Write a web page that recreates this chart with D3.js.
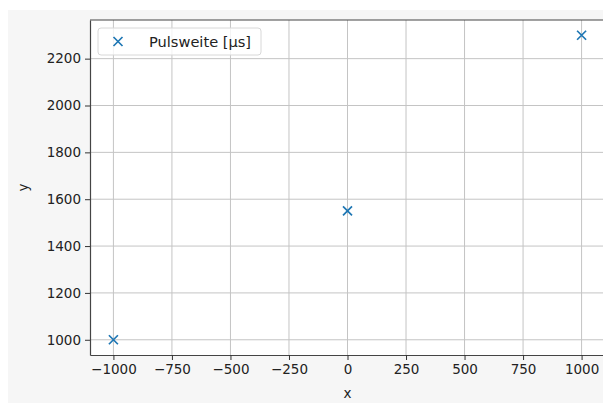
<!DOCTYPE html>
<html>
<head>
<meta charset="utf-8">
<script src="https://cdn.jsdelivr.net/npm/d3@7"></script>
<style>
  body { margin: 0; background: #fff; }
  svg { display: block; font-family: "DejaVu Sans", sans-serif; }
</style>
</head>
<body>
<div id="canvas"></div>
<script>
const xValues = [-1000, 0, 1000];
const yValues = [1000, 1550, 2300];
const seriesName = "Pulsweite [µs]";
const xTicks = [-1000, -750, -500, -250, 0, 250, 500, 750, 1000];
const yTicks = [1000, 1200, 1400, 1600, 1800, 2000, 2200];

const width = 603;
const height = 403;
const margin = { top: 20, left: 90, bottom: 48, right: -2 };
const iwidth = width - margin.left - margin.right;
const iheight = height - margin.top - margin.bottom;

const svg = d3.select("#canvas").append("svg")
  .attr("width", width)
  .attr("height", height);

// figure background
svg.append("rect")
  .attr("x", 8).attr("y", 10)
  .attr("width", width - 8).attr("height", height - 10)
  .attr("fill", "#f6f6f6");

const g = svg.append("g")
  .attr("transform", `translate(${margin.left},${margin.top})`);

g.append("rect")
  .attr("width", iwidth).attr("height", iheight)
  .attr("fill", "#fff");

const x = d3.scaleLinear().domain([-1100, 1100]).range([0, iwidth]);
const y = d3.scaleLinear().domain([935, 2365]).range([iheight, 0]);

// grid
g.append("g").selectAll("line").data(xTicks).join("line")
  .attr("x1", d => x(d)).attr("x2", d => x(d))
  .attr("y1", 0).attr("y2", iheight)
  .attr("stroke", "#c4c4c4").attr("stroke-width", 1);
g.append("g").selectAll("line").data(yTicks).join("line")
  .attr("x1", 0).attr("x2", iwidth)
  .attr("y1", d => y(d)).attr("y2", d => y(d))
  .attr("stroke", "#c4c4c4").attr("stroke-width", 1);

// axes
const fmt = d => d < 0 ? "\u2212" + Math.abs(d) : String(d);
const xAxis = g.append("g")
  .attr("transform", `translate(0,${iheight})`)
  .call(d3.axisBottom(x).tickValues(xTicks).tickFormat(fmt).tickSize(5).tickPadding(4).tickSizeOuter(0));
const yAxis = g.append("g")
  .call(d3.axisLeft(y).tickValues(yTicks).tickFormat(fmt).tickSize(5).tickPadding(4).tickSizeOuter(0));
[xAxis, yAxis].forEach(a => {
  a.selectAll("text").attr("font-size", 13.5).attr("fill", "#222").attr("font-family", "DejaVu Sans");
  a.selectAll("line").attr("stroke", "#333");
  a.select(".domain").attr("stroke", "#444").attr("stroke-width", 1.2);
});

// top spine
g.append("line")
  .attr("x1", 0).attr("x2", iwidth).attr("y1", 0).attr("y2", 0)
  .attr("stroke", "#444").attr("stroke-width", 1.2);

// axis labels
svg.append("text")
  .attr("x", margin.left + x(0)).attr("y", 398)
  .attr("text-anchor", "middle").attr("font-size", 13.5).attr("fill", "#222")
  .text("x");
svg.append("text")
  .attr("transform", `translate(28,${margin.top + y(1650)}) rotate(-90)`)
  .attr("text-anchor", "middle").attr("font-size", 13.5).attr("fill", "#222")
  .text("y");

// markers
const s = 4.5;
g.append("g").selectAll("path").data(xValues.map((d, i) => [d, yValues[i]])).join("path")
  .attr("d", d => `M${x(d[0]) - s},${y(d[1]) - s}L${x(d[0]) + s},${y(d[1]) + s}M${x(d[0]) - s},${y(d[1]) + s}L${x(d[0]) + s},${y(d[1]) - s}`)
  .attr("stroke", "#1f77b4").attr("stroke-width", 1.7).attr("fill", "none");

// legend
const lg = svg.append("g").attr("transform", "translate(98,28)");
lg.append("rect")
  .attr("width", 163).attr("height", 27).attr("rx", 3)
  .attr("fill", "#fff").attr("fill-opacity", 0.8)
  .attr("stroke", "#d8d8d8");
lg.append("path")
  .attr("d", `M${20 - s},${13.5 - s}L${20 + s},${13.5 + s}M${20 - s},${13.5 + s}L${20 + s},${13.5 - s}`)
  .attr("stroke", "#1f77b4").attr("stroke-width", 1.7);
lg.append("text")
  .attr("x", 51).attr("y", 19)
  .attr("font-size", 14.6).attr("fill", "#222")
  .text(seriesName);
</script>
</body>
</html>
